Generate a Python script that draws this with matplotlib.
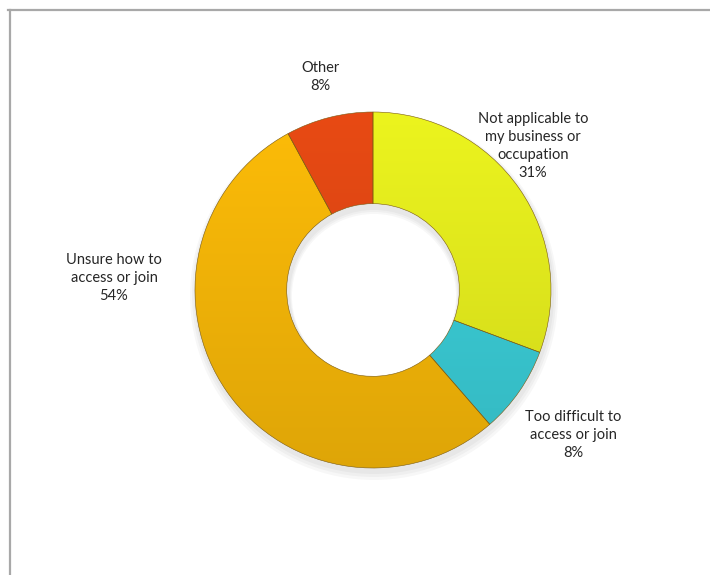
import matplotlib
matplotlib.use("Agg")
from matplotlib import pyplot as plt
from matplotlib.lines import Line2D
from matplotlib.colors import to_rgb
import numpy as np

# reasons for not joining, clockwise from 12 o'clock
reasons = ["Not applicable to\nmy business or\noccupation",
           "Too difficult to\naccess or join",
           "Unsure how to\naccess or join",
           "Other"]
shares = [31, 8, 54, 8]
colours = ["#ecf41e", "#3cd2dc", "#fdbc08", "#e84a14"]

# label centres in pixel space (origin bottom-left)
label_pos = [(533, 429), (573, 140), (114, 297), (320, 498)]

W, H = 710, 575
fig = plt.figure(figsize=(W / 100, H / 100), dpi=100)
ax = fig.add_axes([0, 0, 1, 1])

cx, cy, R = 373, 285, 178

# soft shadow beneath the ring
for i in range(3):
    ax.pie([1], radius=R + 2 + i * 2, center=(cx + 1, cy - 4 - i),
           colors=["#000000"], wedgeprops=dict(width=96 + i * 3, alpha=0.03, linewidth=0),
           frame=True)

wedges, _ = ax.pie(shares, radius=R, center=(cx, cy), colors=colours,
                   startangle=90, counterclock=False, frame=True,
                   wedgeprops=dict(width=R * 0.515, edgecolor="#7a5a10",
                                   linewidth=0.4))

# vertical shading on each segment: light at the top, darker lower down
t = np.linspace(0, 1, 256)[:, None]
for w, c in zip(wedges, colours):
    base = np.array(to_rgb(c))
    dark = base * 0.88
    grad = (base * (1 - t) + dark * t)[:, None, :]
    im = ax.imshow(grad, extent=(cx - R, cx + R, cy - R, cy + R),
                   origin="upper", interpolation="bilinear", zorder=w.get_zorder())
    im.set_clip_path(w)
    w.set_facecolor("none")
    w.set_zorder(w.get_zorder() + 0.1)

ax.set_xlim(0, W)
ax.set_ylim(0, H)
ax.set_aspect("equal")
ax.axis("off")

for name, val, (x, y) in zip(reasons, shares, label_pos):
    ax.text(x, y, f"{name}\n{val}%", ha="center", va="center",
            fontsize=10.5, family="Lato", color="#262626", linespacing=1.35)

# frame lines along top and left
fig.add_artist(Line2D([8 / W, 1], [1 - 9.5 / H] * 2, transform=fig.transFigure,
                      color="#a8a8a8", lw=1.6))
fig.add_artist(Line2D([9.5 / W] * 2, [0, 1 - 9.5 / H], transform=fig.transFigure,
                      color="#a8a8a8", lw=1.6))

fig.savefig("out.png", dpi=100, facecolor="white")
